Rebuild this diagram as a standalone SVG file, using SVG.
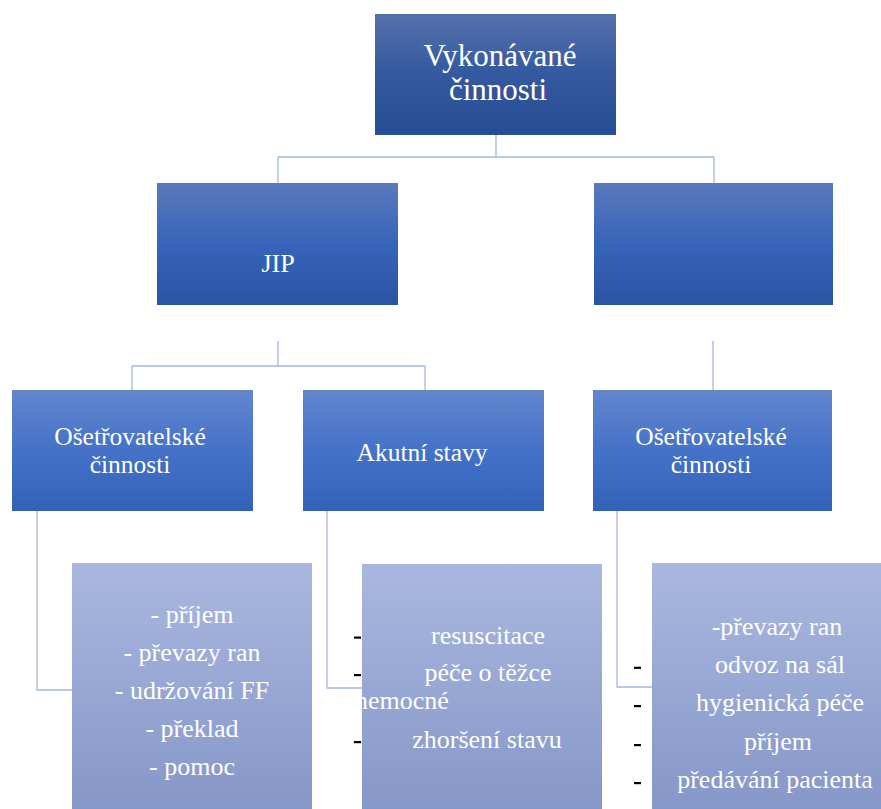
<svg xmlns="http://www.w3.org/2000/svg" width="881" height="809" viewBox="0 0 881 809">
<defs>
<linearGradient id="gTop" x1="0" y1="0" x2="0" y2="1">
<stop offset="0" stop-color="#5670aa"/><stop offset="0.5" stop-color="#34599f"/><stop offset="1" stop-color="#264c93"/>
</linearGradient>
<linearGradient id="gL2" x1="0" y1="0" x2="0" y2="1">
<stop offset="0" stop-color="#5a79bc"/><stop offset="0.5" stop-color="#3764b9"/><stop offset="1" stop-color="#2b54a3"/>
</linearGradient>
<linearGradient id="gL3" x1="0" y1="0" x2="0" y2="1">
<stop offset="0" stop-color="#6386cd"/><stop offset="0.5" stop-color="#4472c8"/><stop offset="1" stop-color="#3262b8"/>
</linearGradient>
<linearGradient id="gL4" x1="0" y1="0" x2="0" y2="1">
<stop offset="0" stop-color="#aab8df"/><stop offset="1" stop-color="#8596c8"/>
</linearGradient>
</defs>
<style>
text{font-family:"Liberation Serif","Times New Roman",serif;fill:#fff;}
.c{text-anchor:middle;}
.conn{fill:none;stroke:#a5b5de;stroke-width:1.3;}
.dash{fill:#000;}
.l{font-size:26px;}
</style>
<rect width="881" height="809" fill="#fff"/>
<g id="connectors">
<path class="conn" d="M496,135 V157 M278,157 H714 M278,157 V183 M714,157 V183"/>
<path class="conn" d="M278,341 V366 M132,366 H425 M132,366 V390 M425,366 V390 M713,341 V390"/>
<path class="conn" d="M37,511 V690 H72"/>
<path class="conn" d="M327,511 V688 H362"/>
<path class="conn" d="M617,511 V687 H652"/>
</g>
<g id="n-root">
<rect x="375" y="14" width="241" height="121" fill="url(#gTop)"/>
<text class="c" x="500" y="66" font-size="31">Vykonávané</text>
<text class="c" x="498" y="100" font-size="31">činnosti</text>
</g>
<g id="n-jip">
<rect x="157" y="183" width="241" height="122" fill="url(#gL2)"/>
<text class="c" x="278" y="272" font-size="26">JIP</text>
</g>
<g id="n-right">
<rect x="594" y="183" width="239" height="122" fill="url(#gL2)"/>
</g>
<g id="n-os1">
<rect x="12" y="390" width="241" height="121" fill="url(#gL3)"/>
<text class="c" x="130" y="445" font-size="25.5">Ošetřovatelské</text>
<text class="c" x="130" y="473" font-size="25.5">činnosti</text>
</g>
<g id="n-akut">
<rect x="303" y="390" width="241" height="121" fill="url(#gL3)"/>
<text class="c" x="422" y="461" font-size="25.5">Akutní stavy</text>
</g>
<g id="n-os2">
<rect x="593" y="390" width="239" height="121" fill="url(#gL3)"/>
<text class="c" x="711" y="445" font-size="25.5">Ošetřovatelské</text>
<text class="c" x="711" y="473" font-size="25.5">činnosti</text>
</g>
<g id="n-list1">
<rect x="72" y="563" width="240" height="250" fill="url(#gL4)"/>
<text class="c l" x="192" y="623">- příjem</text>
<text class="c l" x="192" y="661">- převazy ran</text>
<text class="c l" x="192" y="699">- udržování FF</text>
<text class="c l" x="192" y="737">- překlad</text>
<text class="c l" x="192" y="775">- pomoc</text>
</g>
<g id="n-list2">
<rect x="362" y="564" width="240" height="250" fill="url(#gL4)"/>
<rect class="dash" x="354" y="636.5" width="7" height="2.2"/>
<rect class="dash" x="354" y="674" width="7" height="2.2"/>
<rect class="dash" x="354" y="741" width="7" height="2.2"/>
<text class="c l" x="488" y="644">resuscitace</text>
<text class="c l" x="488" y="681">péče o těžce</text>
<text class="l" x="355" y="709">nemocné</text>
<text class="c l" x="487" y="748">zhoršení stavu</text>
</g>
<g id="n-list3">
<rect x="652" y="563" width="240" height="250" fill="url(#gL4)"/>
<rect class="dash" x="634" y="666.7" width="7" height="2.2"/>
<rect class="dash" x="634" y="705" width="7" height="2.2"/>
<rect class="dash" x="634" y="744" width="7" height="2.2"/>
<rect class="dash" x="634" y="782" width="7" height="2.2"/>
<text class="c l" x="777" y="635">-převazy ran</text>
<text class="c l" x="780" y="673">odvoz na sál</text>
<text class="c l" x="780" y="711">hygienická péče</text>
<text class="c l" x="778" y="750">příjem</text>
<text class="c l" x="775" y="788">předávání pacienta</text>
</g>
</svg>
